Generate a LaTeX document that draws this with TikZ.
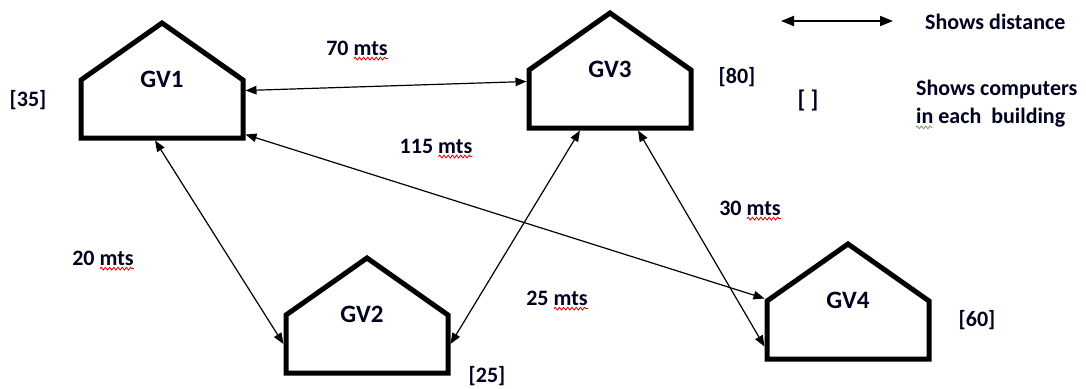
\documentclass[tikz,border=0pt]{standalone}
\usepackage{fontspec}
\setmainfont{Carlito}
\usetikzlibrary{arrows.meta,calc,decorations.pathmorphing}

% one building: invisible body node (for connector anchors), outline and name
\newcommand{\building}[5]{% name, centre x, apex y, label, label x-offset
  \node[body] (#1) at (#2,{#3+86}) {};
  \draw[wall] ({#2-81},{#3+57}) -- (#2,#3) -- ({#2+81},{#3+57})
              -- ({#2+81},{#3+115}) -- ({#2-81},{#3+115}) -- cycle;
  \node[gvtxt] (#1-name) at ({#2+#5},{#3+56}) {#4};
}
% a distance label whose unit carries a wavy spelling mark
\newcommand{\distlabel}[3]{% name, position, text
  \node[txt] (#1) at (#2) {#3};
  \draw[squig] ([xshift=-34pt,yshift=-3.5pt]#1.base east) -- ([yshift=-3.5pt]#1.base east);
}

\begin{document}
\begin{tikzpicture}[x=1pt,y=-1pt,
  body/.style={minimum width=162pt,minimum height=58pt,inner sep=0pt,outer sep=2.5pt},
  wall/.style={line width=5pt,line join=miter},
  txt/.style={font=\fontsize{22}{26}\selectfont\bfseries,text=black!88!blue,inner sep=0pt},
  gvtxt/.style={txt,font=\fontsize{25}{30}\selectfont\bfseries},
  dist/.style={line width=1.2pt,{Triangle[length=11pt,width=8.5pt]}-{Triangle[length=11pt,width=8.5pt]}},
  keyarrow/.style={line width=2pt,{Triangle[length=13pt,width=10pt]}-{Triangle[length=13pt,width=10pt]}},
  squig/.style={draw=red!85!black,line width=0.8pt,decorate,
    decoration={snake,segment length=4.2pt,amplitude=1.4pt}},
  squiggreen/.style={squig,draw={rgb,255:red,110;green,160;blue,95}}
]
\fill[white] (0,0) rectangle (1086,388);
\useasboundingbox (0,0) rectangle (1086,388);

% buildings
\building{gv1}{162}{23}{GV1}{0}
\building{gv3}{610}{13}{GV3}{0}
\building{gv2}{367}{258}{GV2}{-5}
\building{gv4}{848}{244}{GV4}{0}

% computers per building
\node[txt] (c1) at (28,100) {[35]};
\node[txt] (c3) at (737,77) {[80]};
\node[txt] (c2) at (487,376) {[25]};
\node[txt] (c4) at (977,320) {[60]};

% distances between buildings
\draw[dist] ($(gv1.north east)+(0,13)$) -- ($(gv3.north west)+(0,14)$);
\draw[dist] ($(gv1.south east)+(0,-6)$) -- (gv4.north west);
\draw[dist] ($(gv1.south)+(-7,0)$) -- (gv2.west);
\draw[dist] (gv2.east) -- ($(gv3.south)+(-30,0)$);
\draw[dist] ($(gv3.south)+(28,0)$) -- ($(gv4.south west)+(0,-15)$);

\distlabel{d13}{357,48}{70 mts}
\distlabel{d14}{436,146}{115 mts}
\distlabel{d12}{103,258}{20 mts}
\distlabel{d23}{557,298}{25 mts}
\distlabel{d34}{750,208}{30 mts}

% legend
\coordinate (ka) at (781,21);
\coordinate (kb) at (893,21);
\draw[keyarrow] (ka) -- (kb);
\node[txt,anchor=west] (k1) at (925,22) {Shows distance};
\node[txt,font=\fontsize{24}{28}\selectfont\bfseries] (k2) at (808,101) {[ ]};
\node[txt,anchor=west] (k3) at (916,90) {Shows computers};
\node[txt,anchor=west] (k4) at (916,118) {in each\ \ building};
\draw[squiggreen] ([yshift=-3.5pt]k4.base west) -- ([xshift=16pt,yshift=-3.5pt]k4.base west);
\end{tikzpicture}
\end{document}
